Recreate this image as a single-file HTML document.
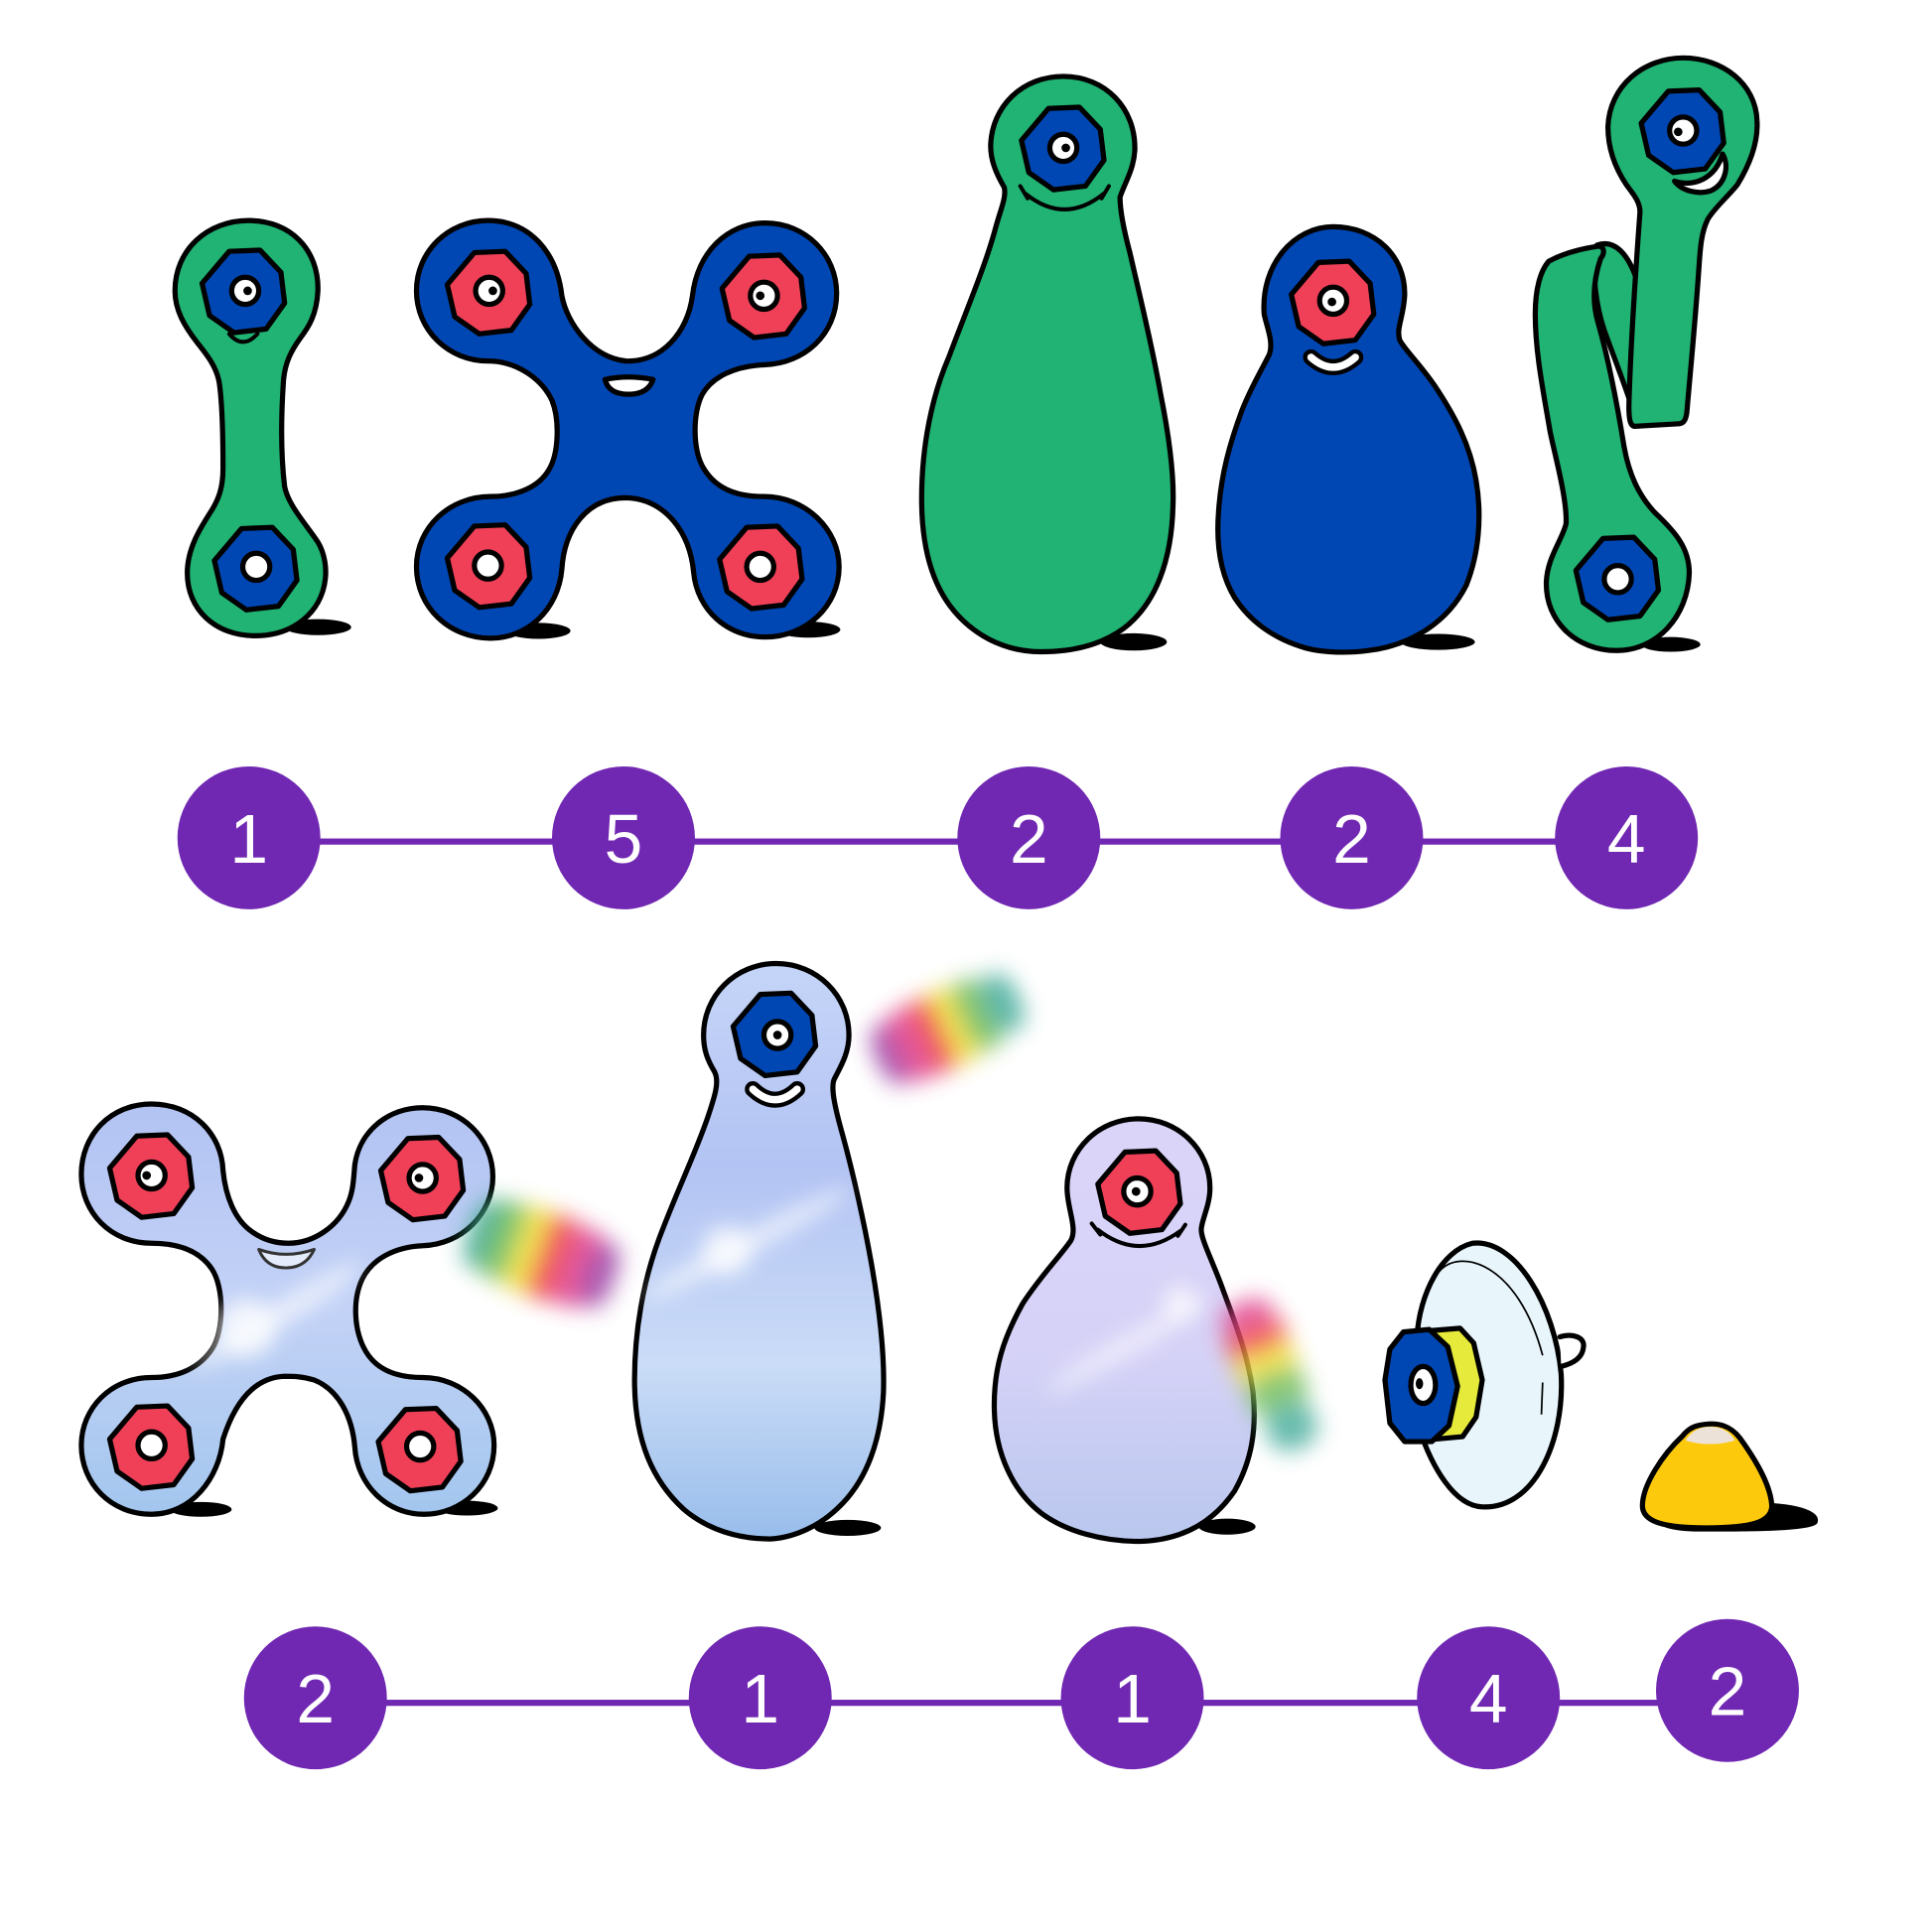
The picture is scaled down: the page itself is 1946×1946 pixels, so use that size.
<!DOCTYPE html>
<html>
<head>
<meta charset="utf-8">
<style>
html,body{margin:0;padding:0;background:#fff;}
svg{display:block;}
.o{stroke:#000;stroke-width:4.2;stroke-linejoin:round;stroke-linecap:round;}
.t{font-family:"Liberation Sans",Arial,sans-serif;font-size:56px;fill:#fff;text-anchor:middle;}
</style>
</head>
<body>
<svg xmlns="http://www.w3.org/2000/svg" width="1946" height="1946" viewBox="0 0 1568 1568">
<defs>
  <filter id="bl" x="-60%" y="-60%" width="220%" height="220%"><feGaussianBlur stdDeviation="9"/></filter>
  <filter id="gl" x="-60%" y="-60%" width="220%" height="220%"><feGaussianBlur stdDeviation="8"/></filter>
  <linearGradient id="gx" x1="0" y1="0" x2="0" y2="1">
    <stop offset="0" stop-color="#b2c3f3"/>
    <stop offset="0.5" stop-color="#c3d2f6"/>
    <stop offset="1" stop-color="#a3c6ee"/>
  </linearGradient>
  <linearGradient id="gp" x1="0" y1="0" x2="0" y2="1">
    <stop offset="0" stop-color="#c5d5f8"/>
    <stop offset="0.35" stop-color="#b3c3f3"/>
    <stop offset="0.7" stop-color="#cadcf7"/>
    <stop offset="1" stop-color="#98bdeb"/>
  </linearGradient>
  <linearGradient id="gr" x1="0" y1="0" x2="0" y2="1">
    <stop offset="0" stop-color="#dad4f8"/>
    <stop offset="0.55" stop-color="#d6d2f7"/>
    <stop offset="1" stop-color="#b9c7ee"/>
  </linearGradient>
</defs>
<rect width="1568" height="1568" fill="#fff"/>

<!-- ================= TOP ROW ================= -->
<ellipse cx="258" cy="509" rx="27" ry="6.5" fill="#000"/>
<ellipse cx="437" cy="512" rx="26" ry="6.5" fill="#000"/>
<ellipse cx="656" cy="511" rx="26" ry="6.5" fill="#000"/>
<ellipse cx="920" cy="521" rx="27" ry="7" fill="#000"/>
<ellipse cx="1167" cy="521" rx="30" ry="6.5" fill="#000"/>
<ellipse cx="1356" cy="523" rx="24" ry="6" fill="#000"/>

<!-- Fig 1: green dumbbell -->
<path class="o" fill="#20b373" d="M 202 179 C 236 179, 259 203, 258 236 C 257 256, 250 266, 244 274 C 236 285, 231 295, 230 310 C 228 340, 228 370, 231 395 C 234 410, 248 425, 258 440 C 264 450, 265 462, 264 470 C 261 497, 238 516, 207 516 C 175 516, 152 495, 152 465 C 152 445, 163 428, 170 417 C 178 405, 181 395, 181 380 C 181 350, 180 325, 178 311 C 176 298, 168 288, 160 278 C 150 265, 142 252, 142 236 C 142 203, 168 179, 202 179 Z"/>
<polygon class="o" fill="#0047b3" transform="translate(198,236)" points="-12,-32 13,-33 30,-15 33,10 18,31 -8,34 -28,20 -34,-6"/>
<circle class="o" cx="199" cy="236" r="11" fill="#fff" stroke-width="3.2"/>
<circle cx="201" cy="236" r="3.5" fill="#000"/>
<path d="M 186 271 Q 197 284 209 271" fill="none" stroke="#000" stroke-width="3.2" stroke-linecap="round"/>
<polygon class="o" fill="#0047b3" transform="translate(208,461)" points="-12,-32 13,-33 30,-15 33,10 18,31 -8,34 -28,20 -34,-6"/>
<circle class="o" cx="208" cy="460" r="11" fill="#fff" stroke-width="3.2"/>

<!-- Fig 2: blue X -->
<path class="o" fill="#0047b3" d="M 396 179 C 430 179, 452 205, 456 240 C 460 262, 480 290, 508 293 C 537 294, 558 270, 562 240 C 566 205, 590 181, 621 181 C 654 181, 679 207, 679 238 C 679 272, 652 295, 621 296 C 596 297, 578 306, 570 320 C 562 335, 562 365, 571 380 C 580 395, 595 403, 620 403 C 654 403, 681 430, 681 460 C 681 492, 654 517, 621 517 C 590 517, 566 495, 563 465 C 560 432, 540 405, 508 404 C 476 404, 458 430, 456 462 C 453 495, 428 518, 398 518 C 365 518, 338 493, 338 460 C 338 428, 365 403, 398 403 C 420 403, 437 395, 445 382 C 454 368, 454 340, 448 325 C 440 308, 420 293, 396 293 C 364 293, 338 268, 338 236 C 338 204, 364 179, 396 179 Z"/>
<polygon class="o" fill="#ef4058" transform="translate(397,237)" points="-12,-32 13,-33 30,-15 33,10 18,31 -8,34 -28,20 -34,-6"/>
<polygon class="o" fill="#ef4058" transform="translate(620,240)" points="-12,-32 13,-33 30,-15 33,10 18,31 -8,34 -28,20 -34,-6"/>
<polygon class="o" fill="#ef4058" transform="translate(397,459)" points="-12,-32 13,-33 30,-15 33,10 18,31 -8,34 -28,20 -34,-6"/>
<polygon class="o" fill="#ef4058" transform="translate(618,460)" points="-12,-32 13,-33 30,-15 33,10 18,31 -8,34 -28,20 -34,-6"/>
<circle class="o" cx="397" cy="236" r="11" fill="#fff" stroke-width="3.2"/>
<circle cx="400" cy="236" r="3.5" fill="#000"/>
<circle class="o" cx="620" cy="240" r="11" fill="#fff" stroke-width="3.2"/>
<circle cx="617" cy="240" r="3.5" fill="#000"/>
<circle class="o" cx="396" cy="459" r="11" fill="#fff" stroke-width="3.2"/>
<circle class="o" cx="617" cy="460" r="11" fill="#fff" stroke-width="3.2"/>
<path class="o" fill="#fff" stroke-width="3" d="M 491 308 Q 510 304 530 308 Q 526 320 510 320 Q 494 320 491 308 Z"/>

<!-- Fig 3: green pin -->
<path class="o" fill="#20b373" d="M 863 62 C 897 62, 922 88, 921 122 C 920 138, 913 148, 909 160 C 909 172, 913 190, 917 205 C 925 240, 935 280, 942 320 C 949 355, 953 385, 952 410 C 951 455, 938 490, 912 510 C 893 524, 870 529, 845 529 C 818 529, 795 518, 778 500 C 757 478, 748 445, 748 405 C 748 360, 757 320, 770 290 C 785 250, 800 215, 808 185 C 812 170, 817 160, 815 152 C 808 140, 804 130, 804 118 C 805 86, 830 62, 863 62 Z"/>
<polygon class="o" fill="#0047b3" transform="translate(863,120)" points="-12,-32 13,-33 30,-15 33,10 18,31 -8,34 -28,20 -34,-6"/>
<circle class="o" cx="863" cy="120" r="11" fill="#fff" stroke-width="3.2"/>
<circle cx="865" cy="120" r="3.5" fill="#000"/>
<path d="M 832 157 Q 864 183 896 157 M 828 151 L 834 161 M 900 151 L 894 161" fill="none" stroke="#000" stroke-width="3.2" stroke-linecap="round"/>

<!-- Fig 4: blue pear -->
<path class="o" fill="#0047b3" d="M 1082 184 C 1116 184, 1141 208, 1140 240 C 1139 258, 1133 266, 1136 276 C 1140 284, 1155 298, 1167 317 C 1180 337, 1193 360, 1198 390 C 1203 420, 1200 450, 1190 475 C 1175 505, 1145 524, 1110 528 C 1095 530, 1075 530, 1060 526 C 1035 519, 1015 505, 1002 485 C 990 465, 987 440, 989 415 C 991 385, 998 360, 1008 333 C 1015 315, 1024 300, 1030 288 C 1034 278, 1028 265, 1026 255 C 1023 215, 1050 184, 1082 184 Z"/>
<polygon class="o" fill="#ef4058" transform="translate(1082,245)" points="-12,-32 13,-33 30,-15 33,10 18,31 -8,34 -28,20 -34,-6"/>
<circle class="o" cx="1082" cy="244" r="11" fill="#fff" stroke-width="3.2"/>
<circle cx="1081" cy="245" r="3.5" fill="#000"/>
<path d="M 1064 290 Q 1082 306 1100 290" fill="none" stroke="#000" stroke-width="13" stroke-linecap="round"/>
<path d="M 1064 290 Q 1082 306 1100 290" fill="none" stroke="#fff" stroke-width="6" stroke-linecap="round"/>

<!-- Fig 5: green twisted -->
<path class="o" fill="#20b373" d="M 1296 199 C 1310 194, 1322 205, 1330 232 L 1326 335 C 1318 310, 1308 285, 1302 268 C 1296 250, 1291 222, 1296 199 Z"/>
<path class="o" fill="#20b373" d="M 1366 47 C 1398 47, 1425 68, 1426 98 C 1427 115, 1421 132, 1410 150 C 1402 160, 1392 168, 1386 178 C 1381 188, 1380 200, 1379 215 C 1376 260, 1372 300, 1369 335 C 1368 342, 1366 344, 1361 344 L 1327 346 C 1323 346, 1322 340, 1322 330 C 1323 290, 1326 240, 1331 172 C 1331 164, 1326 158, 1320 150 C 1312 138, 1305 122, 1305 103 C 1306 70, 1334 47, 1366 47 Z"/>
<path class="o" fill="#20b373" d="M 1257 212 C 1268 206, 1283 202, 1296 200 C 1302 199, 1303 205, 1299 210 C 1293 228, 1292 245, 1297 262 C 1305 290, 1312 325, 1318 362 C 1322 385, 1330 402, 1343 416 C 1360 432, 1371 445, 1371 465 C 1370 500, 1345 528, 1312 528 C 1280 528, 1254 505, 1255 472 C 1256 452, 1268 438, 1271 425 C 1272 405, 1262 370, 1258 350 C 1252 315, 1246 285, 1246 255 C 1246 235, 1250 220, 1257 212 Z"/>
<polygon class="o" fill="#0047b3" transform="translate(1366,106)" points="-12,-32 13,-33 30,-15 33,10 18,31 -8,34 -28,20 -34,-6"/>
<circle class="o" cx="1366" cy="106" r="11" fill="#fff" stroke-width="3.2"/>
<circle cx="1362" cy="107" r="3.5" fill="#000"/>
<path class="o" fill="#fff" stroke-width="3" d="M 1359 147 C 1375 152, 1392 145, 1398 125 C 1404 135, 1400 150, 1388 155 C 1378 158, 1365 155, 1359 147 Z"/>
<polygon class="o" fill="#0047b3" transform="translate(1313,469)" points="-12,-32 13,-33 30,-15 33,10 18,31 -8,34 -28,20 -34,-6"/>
<circle class="o" cx="1313" cy="470" r="11" fill="#fff" stroke-width="3.2"/>

<!-- top connectors -->
<rect x="202" y="680.5" width="1118" height="5" fill="#7028b2"/>
<circle cx="202" cy="680" r="58" fill="#7028b2"/>
<circle cx="506" cy="680" r="58" fill="#7028b2"/>
<circle cx="835" cy="680" r="58" fill="#7028b2"/>
<circle cx="1097" cy="680" r="58" fill="#7028b2"/>
<circle cx="1320" cy="680" r="58" fill="#7028b2"/>
<text class="t" x="202" y="700">1</text>
<text class="t" x="506" y="700">5</text>
<text class="t" x="835" y="700">2</text>
<text class="t" x="1097" y="700">2</text>
<text class="t" x="1320" y="700">4</text>

<!-- ================= BOTTOM ROW ================= -->
<ellipse cx="163" cy="1225" rx="25" ry="6" fill="#000"/>
<ellipse cx="379" cy="1224" rx="25" ry="6" fill="#000"/>
<ellipse cx="688" cy="1240" rx="27" ry="6.5" fill="#000"/>
<ellipse cx="996" cy="1239" rx="23" ry="6.5" fill="#000"/>

<!-- Fig B1: light X -->
<path class="o" fill="url(#gx)" stroke-width="3.6" d="M 123 896 C 156 896, 180 920, 181 950 C 183 970, 190 990, 205 1000 C 215 1007, 225 1009, 234 1009 C 255 1009, 275 995, 283 975 C 287 965, 287 955, 288 945 C 292 918, 315 899, 343 899 C 375 899, 400 924, 400 955 C 400 985, 375 1010, 343 1011 C 320 1012, 302 1022, 294 1038 C 286 1055, 287 1080, 297 1097 C 306 1112, 322 1118, 343 1118 C 375 1118, 401 1143, 401 1173 C 401 1205, 375 1229, 344 1229 C 314 1229, 290 1205, 288 1175 C 286 1150, 275 1128, 255 1120 C 245 1117, 238 1117, 231 1117 C 205 1118, 190 1140, 181 1168 C 178 1200, 155 1229, 123 1229 C 90 1229, 66 1204, 66 1173 C 66 1143, 90 1118, 123 1118 C 145 1118, 162 1110, 172 1095 C 182 1080, 182 1045, 172 1030 C 162 1015, 145 1009, 123 1009 C 90 1009, 66 984, 66 953 C 66 921, 90 896, 123 896 Z"/>
<g filter="url(#gl)" fill="#fff">
  <ellipse cx="225" cy="1068" rx="80" ry="10" transform="rotate(-32 225 1068)" opacity="0.6"/>
  <circle cx="200" cy="1078" r="24" opacity="0.75"/>
</g>
<polygon class="o" fill="#ef4058" transform="translate(123,954)" points="-12,-32 13,-33 30,-15 33,10 18,31 -8,34 -28,20 -34,-6"/>
<polygon class="o" fill="#ef4058" transform="translate(343,956)" points="-12,-32 13,-33 30,-15 33,10 18,31 -8,34 -28,20 -34,-6"/>
<polygon class="o" fill="#ef4058" transform="translate(123,1174)" points="-12,-32 13,-33 30,-15 33,10 18,31 -8,34 -28,20 -34,-6"/>
<polygon class="o" fill="#ef4058" transform="translate(341,1176)" points="-12,-32 13,-33 30,-15 33,10 18,31 -8,34 -28,20 -34,-6"/>
<circle class="o" cx="123" cy="954" r="11" fill="#fff" stroke-width="3.2"/>
<circle cx="119" cy="954" r="3.5" fill="#000"/>
<circle class="o" cx="343" cy="956" r="11" fill="#fff" stroke-width="3.2"/>
<circle cx="340" cy="956" r="3.5" fill="#000"/>
<circle class="o" cx="123" cy="1173" r="11" fill="#fff" stroke-width="3.2"/>
<circle class="o" cx="341" cy="1174" r="11" fill="#fff" stroke-width="3.2"/>
<path d="M 210 1014 Q 232 1022 255 1014 Q 248 1029 232 1029 Q 216 1029 210 1014 Z" fill="#e4ebfb" stroke="#333" stroke-width="2.4" stroke-linejoin="round"/>

<!-- rainbow 1 -->
<g filter="url(#bl)" opacity="0.9" transform="translate(440,1018) rotate(20)">
  <rect x="-62" y="-30" width="26" height="60" rx="20" fill="#3ea890"/>
  <rect x="-44" y="-33" width="26" height="66" rx="10" fill="#72c05e"/>
  <rect x="-22" y="-35" width="20" height="70" fill="#f2e23a"/>
  <rect x="-4" y="-35" width="24" height="70" fill="#f0504a"/>
  <rect x="18" y="-33" width="26" height="66" rx="10" fill="#e0448f"/>
  <rect x="38" y="-28" width="24" height="56" rx="20" fill="#a04aa8"/>
</g>

<!-- Fig B2: light pin -->
<path class="o" fill="url(#gp)" stroke-width="3.6" d="M 630 782 C 663 782, 689 808, 689 840 C 689 855, 682 866, 677 876 C 674 883, 678 900, 683 918 C 692 950, 702 995, 708 1030 C 714 1065, 718 1100, 717 1130 C 715 1170, 703 1200, 684 1220 C 667 1238, 645 1248, 625 1249 C 600 1249, 575 1242, 555 1225 C 530 1202, 515 1170, 515 1120 C 515 1080, 522 1040, 535 1005 C 550 965, 565 935, 575 905 C 580 890, 584 878, 580 870 C 574 860, 571 852, 571 840 C 571 808, 597 782, 630 782 Z"/>
<g filter="url(#gl)" fill="#fff">
  <ellipse cx="605" cy="1010" rx="95" ry="9" transform="rotate(-28 605 1010)" opacity="0.6"/>
  <circle cx="590" cy="1015" r="20" opacity="0.75"/>
</g>
<polygon class="o" fill="#0047b3" transform="translate(629,839)" points="-12,-32 13,-33 30,-15 33,10 18,31 -8,34 -28,20 -34,-6"/>
<circle class="o" cx="631" cy="840" r="11" fill="#fff" stroke-width="3.2"/>
<circle cx="631" cy="840" r="3.5" fill="#000"/>
<path d="M 611 884 Q 629 901 647 884" fill="none" stroke="#000" stroke-width="13" stroke-linecap="round"/>
<path d="M 611 884 Q 629 901 647 884" fill="none" stroke="#fff" stroke-width="6" stroke-linecap="round"/>

<!-- rainbow 2 -->
<g filter="url(#bl)" opacity="0.9" transform="translate(770,834) rotate(-25)">
  <rect x="-64" y="-26" width="26" height="52" rx="18" fill="#a04aa8"/>
  <rect x="-46" y="-30" width="26" height="60" rx="10" fill="#e0448f"/>
  <rect x="-24" y="-31" width="22" height="62" fill="#f0504a"/>
  <rect x="-4" y="-31" width="18" height="62" fill="#f2e23a"/>
  <rect x="12" y="-30" width="26" height="60" rx="10" fill="#78c060"/>
  <rect x="34" y="-25" width="28" height="50" rx="18" fill="#50b0a0"/>
</g>

<!-- Fig B3: lavender pear -->
<path class="o" fill="url(#gr)" stroke-width="3.6" d="M 924 908 C 956 908, 982 933, 982 964 C 982 978, 976 988, 975 997 C 974 1005, 985 1025, 993 1048 C 1003 1075, 1013 1100, 1017 1130 C 1020 1160, 1016 1185, 1002 1210 C 985 1235, 960 1250, 925 1251 C 895 1251, 865 1243, 845 1228 C 822 1210, 808 1180, 807 1145 C 806 1110, 815 1085, 830 1058 C 845 1035, 860 1020, 869 1007 C 873 1000, 870 990, 868 980 C 866 970, 866 964, 866 964 C 866 933, 892 908, 924 908 Z"/>
<g filter="url(#gl)" fill="#fff">
  <ellipse cx="915" cy="1092" rx="75" ry="8" transform="rotate(-30 915 1092)" opacity="0.55"/>
  <circle cx="958" cy="1058" r="15" opacity="0.65"/>
</g>
<polygon class="o" fill="#ef4058" transform="translate(925,967)" points="-12,-32 13,-33 30,-15 33,10 18,31 -8,34 -28,20 -34,-6"/>
<circle class="o" cx="923" cy="967" r="11" fill="#fff" stroke-width="3.2"/>
<circle cx="922" cy="967" r="3.5" fill="#000"/>
<path d="M 891 998 Q 924 1024 958 999 M 886 993 L 893 1002 M 962 994 L 956 1003" fill="none" stroke="#000" stroke-width="3.2" stroke-linecap="round"/>

<!-- rainbow 3 -->
<g filter="url(#bl)" opacity="0.85" transform="translate(1032,1118) rotate(68)">
  <rect x="-66" y="-22" width="28" height="44" rx="18" fill="#e0448f"/>
  <rect x="-44" y="-25" width="24" height="50" fill="#f0504a"/>
  <rect x="-22" y="-25" width="20" height="50" fill="#f2e23a"/>
  <rect x="-4" y="-24" width="32" height="48" rx="8" fill="#78c060"/>
  <rect x="24" y="-21" width="38" height="42" rx="18" fill="#50b0a0"/>
</g>

<!-- Fig B4: suction cup -->
<path class="o" fill="#e8f6fc" d="M 1195 1009 C 1230 1005, 1262 1060, 1267 1115 C 1270 1170, 1245 1225, 1203 1223 C 1180 1222, 1162 1190, 1152 1160 L 1150 1085 C 1152 1050, 1170 1015, 1195 1009 Z"/>
<path d="M 1168 1032 C 1185 1012, 1232 1025, 1252 1100" fill="none" stroke="#000" stroke-width="1.4"/>
<path d="M 1252 1122 L 1251 1148" fill="none" stroke="#000" stroke-width="1.4"/>
<path class="o" fill="#fff" stroke-width="3.2" d="M 1266 1085 C 1276 1082, 1287 1085, 1285 1094 C 1284 1103, 1275 1107, 1267 1109"/>
<polygon class="o" fill="#e6ea3a" points="1160,1080 1185,1078 1196,1090 1203,1120 1198,1150 1187,1166 1165,1168"/>
<polygon class="o" fill="#0047b3" points="1139,1081 1160,1079 1175,1093 1183,1125 1176,1157 1162,1170 1140,1170 1128,1155 1124,1120 1128,1095"/>
<ellipse class="o" cx="1155" cy="1124" rx="10" ry="15" fill="#fff" stroke-width="3.2"/>
<ellipse cx="1152" cy="1123" rx="3" ry="4.5" fill="#000"/>

<!-- Fig B5: yellow cone -->
<path d="M 1345 1235 C 1380 1240, 1420 1222, 1440 1220 C 1465 1222, 1478 1228, 1475 1236 C 1472 1243, 1420 1243, 1380 1243 C 1360 1243, 1348 1240, 1345 1235 Z" fill="#000"/>
<path class="o" fill="#fdc90c" d="M 1378 1157 C 1395 1153, 1405 1158, 1412 1167 C 1425 1185, 1437 1205, 1438 1222 C 1438 1236, 1420 1240, 1385 1240 C 1350 1240, 1333 1235, 1333 1222 C 1333 1205, 1350 1180, 1365 1166 C 1369 1161, 1373 1158, 1378 1157 Z"/>
<path d="M 1368 1169 C 1373 1161, 1380 1158, 1388 1158 C 1397 1158, 1404 1162, 1408 1169 C 1395 1173, 1380 1173, 1368 1169 Z" fill="#ede2d8"/>

<!-- bottom connectors -->
<rect x="256" y="1379.5" width="1145" height="5" fill="#7028b2"/>
<circle cx="256" cy="1378" r="58" fill="#7028b2"/>
<circle cx="617" cy="1378" r="58" fill="#7028b2"/>
<circle cx="919" cy="1378" r="58" fill="#7028b2"/>
<circle cx="1208" cy="1378" r="58" fill="#7028b2"/>
<circle cx="1402" cy="1372" r="58" fill="#7028b2"/>
<text class="t" x="256" y="1398">2</text>
<text class="t" x="617" y="1398">1</text>
<text class="t" x="919" y="1398">1</text>
<text class="t" x="1208" y="1398">4</text>
<text class="t" x="1402" y="1392">2</text>
</svg>
</body>
</html>
